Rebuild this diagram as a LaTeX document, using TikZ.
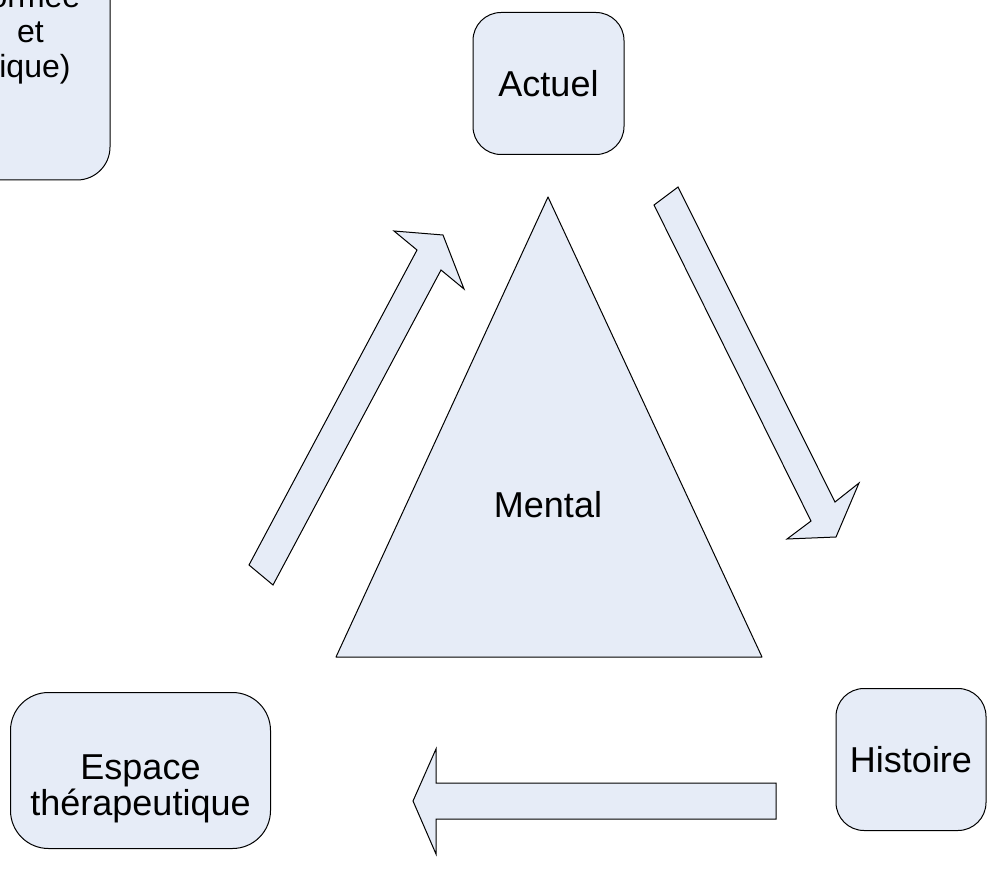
\documentclass[tikz,border=0pt]{standalone}
\usepackage{fontspec}
\setmainfont{Liberation Sans}
\usetikzlibrary{positioning}
\definecolor{boxfill}{RGB}{230,236,247}

\begin{document}
\begin{tikzpicture}[
    x=1pt, y=-1pt,
    box/.style = {rectangle, draw=black, line width=1pt, fill=boxfill, align=center, inner sep=0pt, font=\fontsize{36}{38}\selectfont},
    blockarrow/.style = {draw=black, line width=1pt, fill=boxfill, line join=miter}
]
    \useasboundingbox (0,0) rectangle (993,877);
    \clip (0,0) rectangle (993,877);

    % Boxes
    \draw [box, rounded corners=33pt] (-50,-100) rectangle (110,180);
    \node [align=center, font=\fontsize{32}{35}\selectfont] (corps) at (30.5,34) {formée\\et\\tique)};

    \node [box, rounded corners=28pt, minimum width=151pt, minimum height=142pt] (actuel) at (548.5,83.5) {Actuel};
    \node [box, rounded corners=28pt, minimum width=150pt, minimum height=142pt] (histoire) at (911,759.5) {Histoire};
    \node [box, rounded corners=38pt, minimum width=260pt, minimum height=156pt,
           label={[align=center, font=\fontsize{36}{36}\selectfont, yshift=-18pt]center:Espace\\th\'erapeutique}] (espace) at (140.5,770.5) {};

    % Triangle
    \draw [blockarrow, line join=round] (548,197) -- (336,657) -- (762,657) -- cycle;
    \node [font=\fontsize{36}{38}\selectfont] (mental) at (548,505) {Mental};

    % Arrows
    \draw [blockarrow] (249,565) -- (417,250) -- (394,231) -- (443,235) -- (464,289) -- (441,270) -- (273,585) -- cycle;
    \draw [blockarrow] (654,205) -- (678,187) -- (835,502) -- (859,483) -- (836,537) -- (787,539) -- (811,521) -- cycle;
    \draw [blockarrow] (776,783) -- (776,819) -- (436,819) -- (436,854) -- (413,801) -- (436,749) -- (436,783) -- cycle;

\end{tikzpicture}
\end{document}
